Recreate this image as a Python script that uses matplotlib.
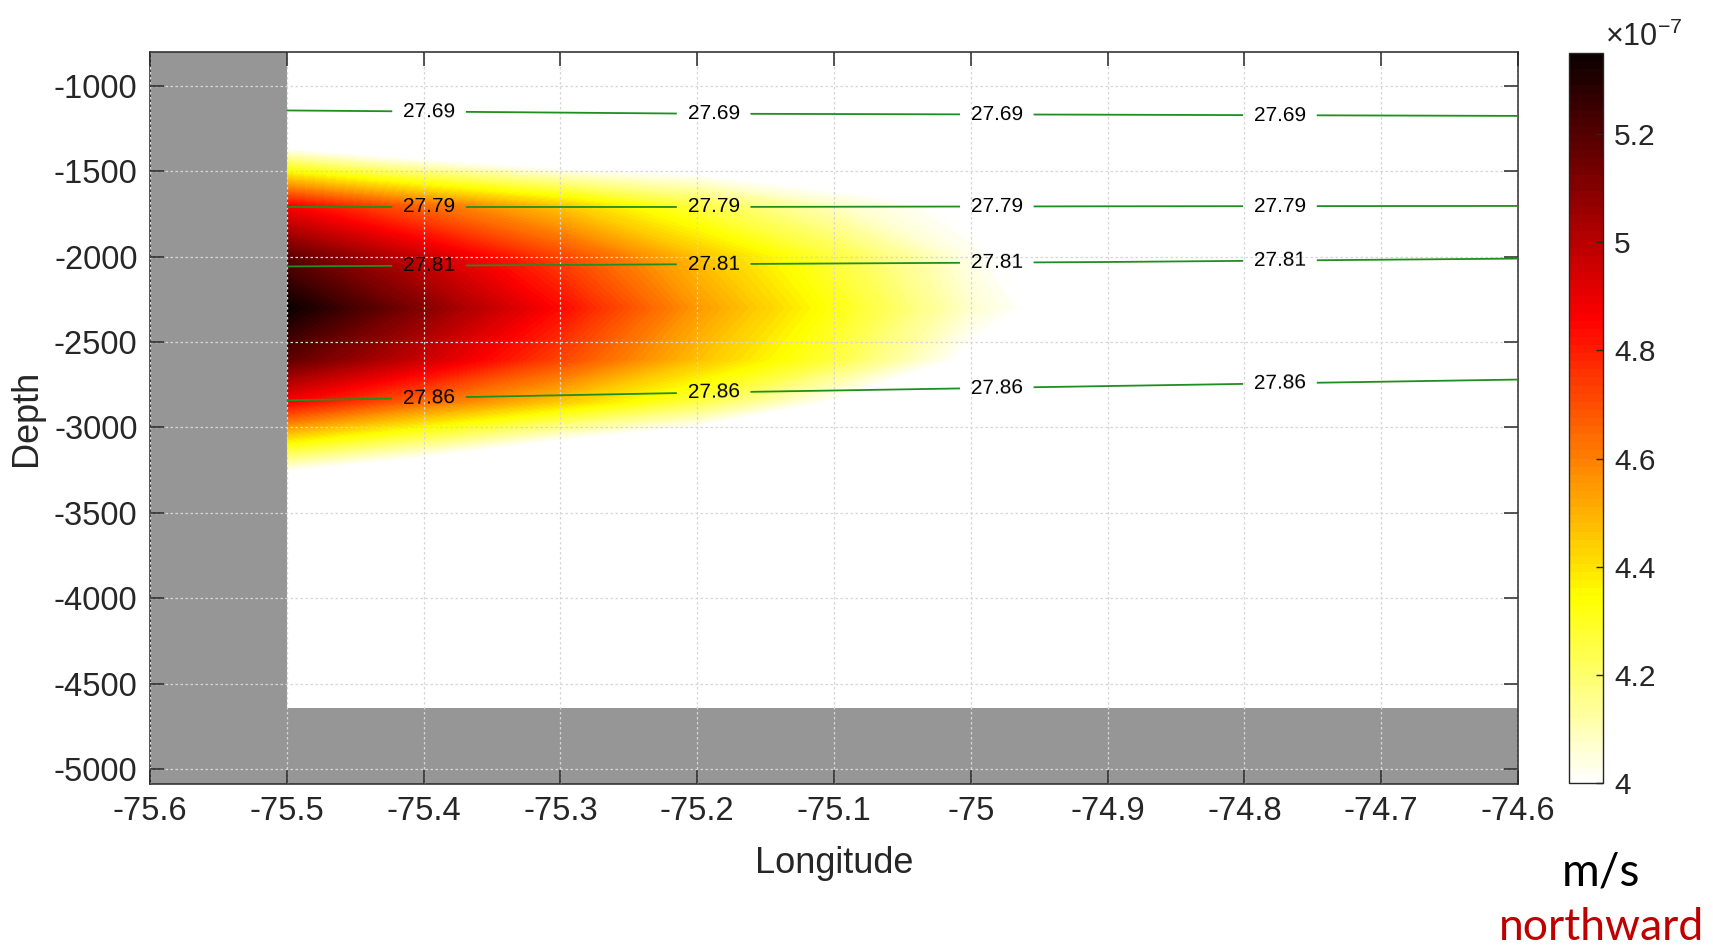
import numpy as np
import matplotlib
matplotlib.use('Agg')
import matplotlib.pyplot as plt
from matplotlib.ticker import FormatStrFormatter

plt.rcParams['font.family'] = ['Liberation Sans', 'DejaVu Sans']
plt.rcParams['mathtext.fontset'] = 'custom'
plt.rcParams['mathtext.rm'] = 'Liberation Sans'
plt.rcParams['mathtext.it'] = 'Liberation Sans:italic'
plt.rcParams['axes.unicode_minus'] = False

# northward velocity (units of 1e-7 m/s)
vel_lon = [-75.5, -75.4, -75.3, -75.2, -75.1, -75.0, -74.9, -74.8, -74.7, -74.6]
vel_depth = [-800, -1200, -1700, -2000, -2300, -2600, -2850, -3400, -4640]
vel = [
    [3.00, 3.00, 3.00, 3.00, 3.00, 3.00, 3.00, 3.00, 3.00, 3.00],
    [3.56, 3.45, 3.41, 3.56, 3.62, 3.50, 3.50, 3.45, 3.40, 3.35],
    [4.86, 4.64, 4.45, 4.25, 4.08, 3.97, 3.80, 3.65, 3.55, 3.45],
    [5.18, 4.96, 4.72, 4.47, 4.26, 4.03, 3.85, 3.68, 3.58, 3.48],
    [5.35, 5.10, 4.84, 4.55, 4.32, 4.07, 3.89, 3.70, 3.60, 3.50],
    [5.18, 4.96, 4.72, 4.47, 4.26, 3.97, 3.85, 3.68, 3.58, 3.48],
    [4.86, 4.64, 4.45, 4.25, 3.99, 3.80, 3.70, 3.60, 3.50, 3.40],
    [3.70, 3.56, 3.35, 3.31, 3.30, 3.30, 3.30, 3.25, 3.20, 3.15],
    [3.00, 3.00, 3.00, 3.00, 3.00, 3.00, 3.00, 3.00, 3.00, 3.00],
]
vel_min, vel_max = 4.0, 5.35
cbar_ticks = [4, 4.2, 4.4, 4.6, 4.8, 5, 5.2]

# isopycnal depths (potential density) along the section
rho_lon = [-75.5, -75.2, -74.9, -74.6]
rho_levels = [27.69, 27.79, 27.81, 27.86]
rho_depth = [
    [-1145, -1164, -1170, -1177],
    [-1710, -1710, -1706, -1704],
    [-2058, -2045, -2032, -2012],
    [-2842, -2797, -2758, -2720],
]
label_lon = [-75.396, -75.188, -74.981, -74.774]

# topography
coast_lon = -75.5
floor_depth = -4640

xticks = [-75.6, -75.5, -75.4, -75.3, -75.2, -75.1, -75.0, -74.9, -74.8, -74.7, -74.6]
yticks = [-5000, -4500, -4000, -3500, -3000, -2500, -2000, -1500, -1000]
xlim = (-75.6, -74.6)
ylim = (-5087, -803)

W, H = 1713, 949
fig = plt.figure(figsize=(W / 100, H / 100), dpi=100)
ax = fig.add_axes([150 / W, 1 - 784 / H, 1368 / W, 732 / H])

# velocity field
lon2d, dep2d = np.meshgrid(vel_lon, vel_depth)
levels = np.linspace(vel_min, vel_max, 91)
cf = ax.contourf(lon2d, dep2d, np.array(vel), levels=levels, cmap='hot_r', zorder=1)

# land / seafloor
ax.axvspan(xlim[0], coast_lon, color='#969696', lw=0, zorder=1.5)
ax.axhspan(ylim[0], floor_depth, color='#969696', lw=0, zorder=1.5)

# density contours: curvilinear grid whose rows are the isopycnals
rho_rows = np.vstack([np.full(len(rho_lon), -800.0), np.array(rho_depth, float),
                      np.full(len(rho_lon), float(floor_depth))])
rho_vals = np.array([27.60] + rho_levels + [27.95])
rho_x = np.tile(rho_lon, (len(rho_vals), 1))
rho_z = np.tile(rho_vals[:, None], (1, len(rho_lon)))
cs = ax.contour(rho_x, rho_rows, rho_z, levels=rho_levels, colors='#1f8f1f',
                linewidths=1.3, zorder=3)
positions = []
for k, lev in enumerate(rho_levels):
    for lo in label_lon:
        positions.append((lo, np.interp(lo, rho_lon, rho_depth[k])))
ax.clabel(cs, rho_levels, inline=True, fmt='%.2f', fontsize=15, colors='k',
          manual=positions, inline_spacing=9)

ax.set_xlim(*xlim)
ax.set_ylim(*ylim)
ax.set_xticks(xticks)
ax.set_yticks(yticks)
ax.xaxis.set_major_formatter(FormatStrFormatter('%g'))
ax.set_axisbelow(False)
ax.grid(True, linestyle=(0, (2, 2)), color='#d6d6d6', linewidth=0.9)
ax.tick_params(direction='in', length=10, width=1.1, colors='#262626',
               labelsize=23.5, top=True, right=True, pad=9)
for s in ax.spines.values():
    s.set_color('#262626')
    s.set_linewidth(1.1)
ax.set_xlabel('Longitude', fontsize=26, color='#262626', labelpad=13)
ax.set_ylabel('Depth', fontsize=26, color='#262626', labelpad=7)

# colorbar
cax = fig.add_axes([1569 / W, 1 - 783 / H, 34 / W, 730 / H])
cb = fig.colorbar(cf, cax=cax, ticks=cbar_ticks)
cb.ax.yaxis.set_major_formatter(FormatStrFormatter('%g'))
cb.ax.tick_params(direction='in', length=5, width=1, colors='#262626',
                  labelsize=21.5, pad=8)
cb.outline.set_edgecolor('#262626')
cb.outline.set_linewidth(1)
fig.text(1605 / W, 1 - 46 / H, r'$\times10^{-7}$', fontsize=22, color='#262626',
         ha='left', va='baseline')

fig.text(1601 / W, 1 - 886 / H, 'm/s', fontsize=33, color='black',
         family=['Lato', 'DejaVu Sans'], ha='center', va='baseline')
fig.text(1602 / W, 1 - 940 / H, 'northward', fontsize=32, color='#c00000',
         family=['Lato', 'DejaVu Sans'], ha='center', va='baseline')

fig.savefig('out.png', dpi=100)
